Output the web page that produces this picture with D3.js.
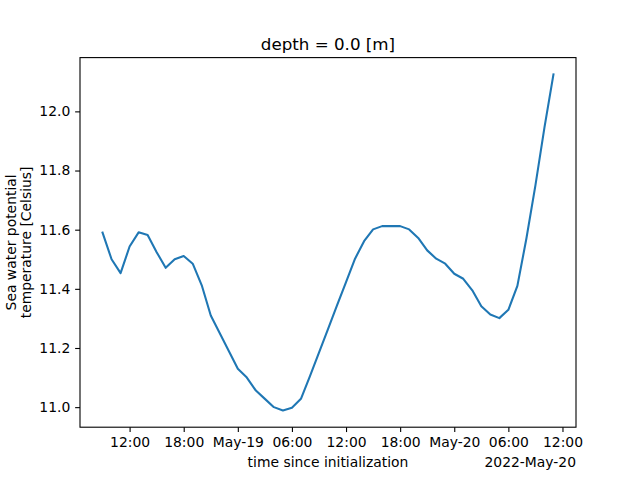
<!DOCTYPE html>
<html>
<head>
<meta charset="utf-8">
<script src="https://cdn.jsdelivr.net/npm/d3@7"></script>
<style>
  html, body { margin: 0; padding: 0; background: #fff; }
  text { font-family: "DejaVu Sans", sans-serif; fill: #000; }
</style>
</head>
<body>
<script>
// ---- data ----
const times = [
  "2022-05-18T09:00","2022-05-18T10:00","2022-05-18T11:00","2022-05-18T12:00","2022-05-18T13:00",
  "2022-05-18T14:00","2022-05-18T15:00","2022-05-18T16:00","2022-05-18T17:00","2022-05-18T18:00",
  "2022-05-18T19:00","2022-05-18T20:00","2022-05-18T21:00","2022-05-18T22:00","2022-05-18T23:00",
  "2022-05-19T00:00","2022-05-19T01:00","2022-05-19T02:00","2022-05-19T03:00","2022-05-19T04:00",
  "2022-05-19T05:00","2022-05-19T06:00","2022-05-19T07:00","2022-05-19T08:00","2022-05-19T09:00",
  "2022-05-19T10:00","2022-05-19T11:00","2022-05-19T12:00","2022-05-19T13:00","2022-05-19T14:00",
  "2022-05-19T15:00","2022-05-19T16:00","2022-05-19T17:00","2022-05-19T18:00","2022-05-19T19:00",
  "2022-05-19T20:00","2022-05-19T21:00","2022-05-19T22:00","2022-05-19T23:00","2022-05-20T00:00",
  "2022-05-20T01:00","2022-05-20T02:00","2022-05-20T03:00","2022-05-20T04:00","2022-05-20T05:00",
  "2022-05-20T06:00","2022-05-20T07:00","2022-05-20T08:00","2022-05-20T09:00","2022-05-20T10:00",
  "2022-05-20T11:00"
];
const temperature = [
  11.59, 11.50, 11.453, 11.543, 11.591,
  11.582, 11.524, 11.471, 11.50, 11.511,
  11.485, 11.412, 11.31, 11.25, 11.19,
  11.13, 11.10, 11.056, 11.028, 11.00,
  10.989, 10.998, 11.028, 11.105, 11.184,
  11.264, 11.344, 11.423, 11.502, 11.561,
  11.601, 11.612, 11.612, 11.612, 11.601,
  11.572, 11.530, 11.502, 11.485, 11.451,
  11.434, 11.395, 11.341, 11.313, 11.301,
  11.329, 11.410, 11.57, 11.75, 11.945,
  12.125
];
const xTickTimes = ["2022-05-18T12:00","2022-05-18T18:00","2022-05-19T00:00","2022-05-19T06:00",
  "2022-05-19T12:00","2022-05-19T18:00","2022-05-20T00:00","2022-05-20T06:00","2022-05-20T12:00"];
const xTickLabels = ["12:00","18:00","May-19","06:00","12:00","18:00","May-20","06:00","12:00"];
const yTicks = [11.0, 11.2, 11.4, 11.6, 11.8, 12.0];
const titleText = "depth = 0.0 [m]";
const xLabel = "time since initialization";
const offsetLabel = "2022-May-20";
const yLabelLines = ["Sea water potential", "temperature [Celsius]"];

// ---- layout ----
const W = 640, H = 480;
const mLeft = 80, mRight = 576, mTop = 57.6, mBottom = 427.2;
const parse = s => new Date(s + ":00Z");
const data = times.map((t, i) => ({ t: parse(t), v: temperature[i] }));

const tExt = d3.extent(data, d => d.t);
const tSpan = tExt[1] - tExt[0];
const x = d3.scaleUtc()
  .domain([new Date(+tExt[0] - 0.05 * tSpan), new Date(+tExt[1] + 0.05 * tSpan)])
  .range([mLeft, mRight]);
const vExt = d3.extent(data, d => d.v);
const vSpan = vExt[1] - vExt[0];
const y = d3.scaleLinear()
  .domain([vExt[0] - 0.05 * vSpan, vExt[1] + 0.05 * vSpan])
  .range([mBottom, mTop]);

const svg = d3.select("body").append("svg")
  .attr("width", W).attr("height", H)
  .style("display", "block");

svg.append("rect").attr("width", W).attr("height", H).attr("fill", "#fff");

// line
const line = d3.line().x(d => x(d.t)).y(d => y(d.v));
svg.append("path").datum(data)
  .attr("d", line)
  .attr("fill", "none")
  .attr("stroke", "#1f77b4")
  .attr("stroke-width", 2.08)
  .attr("stroke-linejoin", "round")
  .attr("stroke-linecap", "square");

// x axis
const xTickDates = xTickTimes.map(parse);
const xAxis = d3.axisBottom(x)
  .tickValues(xTickDates)
  .tickFormat((d, i) => xTickLabels[i])
  .tickSize(4.86).tickPadding(4.86);
const gx = svg.append("g").attr("transform", `translate(0,${mBottom})`).call(xAxis);
gx.select(".domain").remove();
gx.selectAll(".tick line").attr("stroke", "#000").attr("stroke-width", 1.1);
gx.selectAll(".tick text").attr("font-size", "13.9px").attr("font-family", "DejaVu Sans").attr("fill", "#000");

// y axis
const yAxis = d3.axisLeft(y)
  .tickValues(yTicks)
  .tickFormat(d3.format(".1f"))
  .tickSize(4.86).tickPadding(4.86);
const gy = svg.append("g").attr("transform", `translate(${mLeft},0)`).call(yAxis);
gy.select(".domain").remove();
gy.selectAll(".tick line").attr("stroke", "#000").attr("stroke-width", 1.1);
gy.selectAll(".tick text").attr("font-size", "13.9px").attr("font-family", "DejaVu Sans").attr("fill", "#000");

// frame
svg.append("rect")
  .attr("x", mLeft).attr("y", mTop)
  .attr("width", mRight - mLeft).attr("height", mBottom - mTop)
  .attr("fill", "none").attr("stroke", "#000").attr("stroke-width", 1.1);

// title
svg.append("text")
  .attr("x", (mLeft + mRight) / 2).attr("y", 49.5)
  .attr("text-anchor", "middle")
  .attr("font-size", "16.7px")
  .text(titleText);

// x label
svg.append("text")
  .attr("x", (mLeft + mRight) / 2).attr("y", 467)
  .attr("text-anchor", "middle")
  .attr("font-size", "13.9px")
  .text(xLabel);

// offset label
svg.append("text")
  .attr("x", mRight).attr("y", 467)
  .attr("text-anchor", "end")
  .attr("font-size", "13.9px")
  .text(offsetLabel);

// y label
const cy = (mTop + mBottom) / 2;
const yl = svg.append("text")
  .attr("transform", `translate(15.5,${cy}) rotate(-90)`)
  .attr("text-anchor", "middle")
  .attr("font-size", "13.9px");
yl.selectAll("tspan").data(yLabelLines).enter().append("tspan")
  .attr("x", 0)
  .attr("dy", (d, i) => i === 0 ? 0 : 15.6)
  .text(d => d);
</script>
</body>
</html>
